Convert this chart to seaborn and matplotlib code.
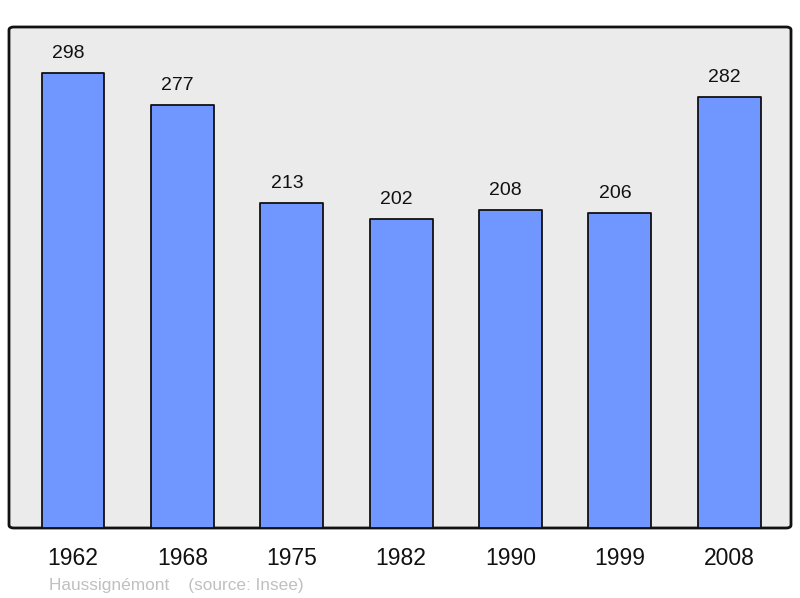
import matplotlib
matplotlib.use("Agg")
import matplotlib.pyplot as plt
import seaborn as sns
import pandas as pd
from matplotlib.patches import FancyBboxPatch

years = ["1962", "1968", "1975", "1982", "1990", "1999", "2008"]
population = [298, 277, 213, 202, 208, 206, 282]
commune = "Haussignémont"
source = "(source: Insee)"

sns.set_theme(style="white")
plt.rcParams["font.family"] = ["Liberation Sans", "DejaVu Sans"]

df = pd.DataFrame({"year": years, "pop": population})

fig = plt.figure(figsize=(8, 5.98), dpi=100)
ax = fig.add_axes([9/800, 70/598, 782/800, 501/598])
ax.set_facecolor("none")

# rounded background box
bg = FancyBboxPatch((0, 0), 1, 1, boxstyle="round,pad=0,rounding_size=0.006",
                    transform=ax.transAxes, facecolor="#ebebeb", edgecolor="#111111",
                    linewidth=2, zorder=0, clip_on=False)
ax.add_patch(bg)

sns.barplot(data=df, x="year", y="pop", color="#7096ff", width=0.575,
            edgecolor="#111111", linewidth=1.3, saturation=1, ax=ax, zorder=2)
for p in ax.patches:
    p.set_joinstyle("round")

for i, v in enumerate(population):
    ax.annotate(str(v), (i, v), xytext=(-3.5, 10.8), textcoords="offset points",
                ha="center", va="baseline", fontsize=14, color="#111111")

ax.set_xlim(-0.585, 6.565)
ax.set_ylim(0, 328)
for s in ax.spines.values():
    s.set_visible(False)
ax.set_yticks([])
ax.set_xlabel("")
ax.set_ylabel("")
ax.tick_params(axis="x", length=0, pad=14, labelsize=16.5, labelcolor="#111111")

fig.text(49/800, 1 - 590/598, commune + "    " + source, fontsize=12.4,
         color="#c0c0c0", ha="left", va="baseline")

fig.savefig("out.png", dpi=100)
